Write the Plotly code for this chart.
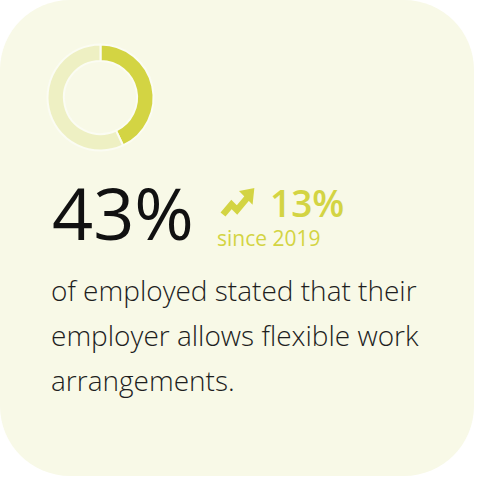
import plotly.graph_objects as go

# Headline figures
share_flexible = 43          # % of employed with flexible work arrangements
share_rest = 100 - share_flexible
change_since = 13            # percentage-point change
base_year = 2019
headline = f"{share_flexible}%"
change_label = f"{change_since}%"
since_label = f"since {base_year}"
body_lines = [
    "of employed stated that their",
    "employer allows flexible work",
    "arrangements.",
]

W, H = 480, 477
CARD = "#f8f9e7"
ACCENT = "#d3d443"
ACCENT_LIGHT = "#eef0c3"
FONT = "Open Sans"


def rounded_rect(x0, y0, x1, y1, r):
    k = 0.5523 * r
    return (
        f"M {x0 + r},{y0} L {x1 - r},{y0} "
        f"C {x1 - r + k},{y0} {x1},{y0 + r - k} {x1},{y0 + r} "
        f"L {x1},{y1 - r} "
        f"C {x1},{y1 - r + k} {x1 - r + k},{y1} {x1 - r},{y1} "
        f"L {x0 + r},{y1} "
        f"C {x0 + r - k},{y1} {x0},{y1 - r + k} {x0},{y1 - r} "
        f"L {x0},{y0 + r} "
        f"C {x0},{y0 + r - k} {x0 + r - k},{y0} {x0 + r},{y0} Z"
    )


fig = go.Figure()

# Donut ring: highlighted share starting at 12 o'clock, clockwise
cx, cy, r_out = 100.5, 97.5, 53
fig.add_trace(go.Pie(
    values=[share_flexible, share_rest],
    sort=False,
    direction="clockwise",
    rotation=0,
    hole=0.69,
    textinfo="none",
    hoverinfo="skip",
    showlegend=False,
    marker=dict(colors=[ACCENT, ACCENT_LIGHT], line=dict(color="#fbfcf3", width=2)),
    domain=dict(
        x=[(cx - r_out) / W, (cx + r_out) / W],
        y=[1 - (cy + r_out) / H, 1 - (cy - r_out) / H],
    ),
))

shapes = [
    dict(type="path", path=rounded_rect(0, 0, 474, 476, 70),
         fillcolor=CARD, line=dict(width=0), layer="below",
         xref="x", yref="y"),
    # trending-up arrow
    dict(type="path", path="M 223,214.5 L 231.5,204.5 L 237,210 L 247.5,197.5",
         line=dict(color=ACCENT, width=6.5), xref="x", yref="y"),
    dict(type="path", path="M 253.5,189 L 240.5,191.5 L 252,203 Z",
         fillcolor=ACCENT, line=dict(color=ACCENT, width=1.5), xref="x", yref="y"),
]

annotations = [
    dict(x=50, y=212, text=headline, xanchor="left", yanchor="middle",
         font=dict(family=FONT, size=72, color="#111111", weight=400)),
    dict(x=268, y=202, text=change_label, xanchor="left", yanchor="middle",
         font=dict(family=FONT, size=37, color=ACCENT, weight=600)),
    dict(x=215, y=238, text=since_label, xanchor="left", yanchor="middle",
         font=dict(family=FONT, size=21, color=ACCENT, weight=400)),
]
for i, line in enumerate(body_lines):
    annotations.append(dict(
        x=49, y=290 + 45 * i, text=line, xanchor="left", yanchor="middle",
        font=dict(family=FONT, size=28, color="#1e1e1e", weight=300),
    ))
for a in annotations:
    a.update(xref="x", yref="y", showarrow=False)

fig.update_layout(
    width=W, height=H,
    margin=dict(l=0, r=0, t=0, b=0),
    paper_bgcolor="white",
    plot_bgcolor="rgba(0,0,0,0)",
    xaxis=dict(range=[0, W], visible=False, fixedrange=True),
    yaxis=dict(range=[H, 0], visible=False, fixedrange=True),
    shapes=shapes,
    annotations=annotations,
    showlegend=False,
)

fig.write_html("out.html", config={"displayModeBar": False})
